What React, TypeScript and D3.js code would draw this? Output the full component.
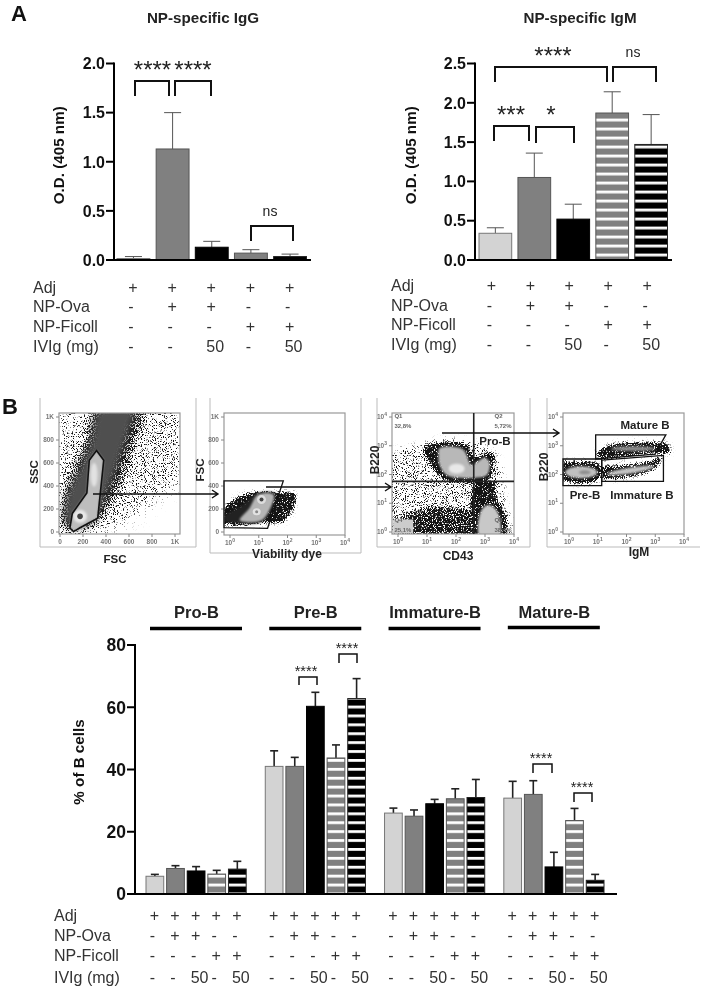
import React from "react";
import * as d3 from "d3";

const FONT = "'Liberation Sans', Arial, sans-serif";
const LIGHT = "#d3d3d3", GREY = "#808080", BLACK = "#000";

// ---------- values ----------
const conditionFills = ["light", "grey", "black", "greyStripe", "blackStripe"];
const iggValues = [0.015, 1.13, 0.13, 0.07, 0.035];
const iggTops = [0.035, 1.5, 0.19, 0.105, 0.06];
const igmValues = [0.34, 1.05, 0.52, 1.87, 1.47];
const igmTops = [0.41, 1.36, 0.71, 2.14, 1.85];
const iggTicks = [0, 0.5, 1, 1.5, 2];
const igmTicks = [0, 0.5, 1, 1.5, 2, 2.5];
const bTicks = [0, 20, 40, 60, 80];
const groups = ["Pro-B", "Pre-B", "Immature-B", "Mature-B"];
const bValues = [
  [5.7, 8.2, 7.4, 6.4, 8],
  [41, 41, 60.3, 43.7, 62.8],
  [26, 25, 29, 30.6, 31],
  [30.8, 32, 8.7, 23.6, 4.4],
];
const bTops = [
  [6.3, 9.1, 8.8, 7.6, 10.5],
  [46, 43.9, 64.8, 47.9, 69.2],
  [27.6, 27, 30.4, 33.8, 36.8],
  [36.2, 36.4, 13.4, 27.5, 6.3],
];
const rowNames = ["Adj", "NP-Ova", "NP-Ficoll", "IVIg (mg)"];
const rowMarks = [
  ["+", "+", "+", "+", "+"],
  ["-", "+", "+", "-", "-"],
  ["-", "-", "-", "+", "+"],
  ["-", "-", "50", "-", "50"],
];
// flow-plot shapes, in percent of each plot frame
const p1Scatter = [[0,105],[105,105],[105,48],[84,32],[58,12],[34,2],[0,0]];
const p1Dark = [[26,105],[72,105],[67,82],[57,52],[48,30],[34,10],[15,2],[1,2],[3,32],[12,60],[22,82]];
const p1Mid = [[32,102],[62,102],[57,82],[47,52],[37,27],[28,10],[15,5],[6,8],[6,30],[17,55],[27,79]];
const p1Gate = [[31,69],[37,61],[32,13],[17,5],[12,2],[9,5],[11,17],[23,34],[25,61]];
const p2Gate = [[0,44.4],[49,44.4],[36,5.5],[0,6]];
const p2Dark = [[-2,20],[8,29],[24,35],[43,35],[57,35],[60,30],[54,16],[49,11],[35,10],[-2,10]];
const p2Mid = [[0,15],[16,25],[27,34],[42,34],[38,21],[32,11],[0,12]];
const p2Light = [[13,12],[21,22],[28,33],[41,33],[35,16],[30,11.5]];
const p3Scatter = [[-3,64],[25,74],[45,78],[83,68],[93,25],[97,-3],[-3,-3]];
const p3Upper = [[25.5,71],[39,76],[61,74],[68,63],[77.5,68],[83,66],[82,49],[77.5,43.5],[42,45],[34,54],[27,65]];
const p3UpperLight = [[39,71],[58,70],[65,57],[69,59],[76,63],[80,59],[78,49],[69,46.5],[45,48.5],[39,57],[38,65.5]];
const p3Low = [[6,17],[34,24],[64,22],[70,-3],[6,-3]];
const p3Col = [[68,43.5],[83,43.5],[86,30],[94,13],[91,-3],[68,-3]];
const p3ColLight = [[72,-2],[73,19],[79,24],[86,19],[88,-2]];
const p4Mature = [[27,82],[85,82],[76,66],[27,62]];
const p4Immature = [[32,61],[83,65],[83,43.5],[32,43.5]];
const p4Pre = [[0,62],[32,62],[32,40],[0,40]];
const p4MatureCloud = [[29,68],[41,74],[66,76],[87,74],[88,67],[74,67],[52,64],[30,63]];
const p4ImmatureCloud = [[32,54.5],[52,57],[74,61],[81,64],[78,56],[66,49.5],[46,46],[32,46.5]];
const p4PreCloud = [[-2,58],[14,60],[30,58],[32,50],[28,44],[12,42],[-2,46]];
const linearTicks = ["0", "200", "400", "600", "800", "1K"];
const logPowers = ["0", "1", "2", "3", "4"];
const quadrants = [["Q1", "32,8%"], ["Q2", "5,72%"], ["Q3", "38,4%"], ["Q4", "25,1%"]];

const fillOf = (k: string, set: string) =>
  k === "light" ? LIGHT : k === "grey" ? GREY : k === "black" ? BLACK : `url(#${k}${set})`;
const strokeOf = (k: string) =>
  k === "light" ? "#777" : k === "grey" || k === "greyStripe" ? "#555" : k === "blackStripe" ? "#222" : "#000";

function Bars({ x, y, values, tops, ebColor, ebWidth, cap, set }: any) {
  return (
    <g>
      {values.map((v: number, i: number) => {
        const cx = x(i) + x.bandwidth() / 2;
        return (
          <g key={i}>
            <line x1={cx} x2={cx} y1={y(v)} y2={y(tops[i])} stroke={ebColor} strokeWidth={ebWidth} />
            <line x1={cx - cap} x2={cx + cap} y1={y(tops[i])} y2={y(tops[i])} stroke={ebColor} strokeWidth={ebWidth} />
            <rect x={x(i)} width={x.bandwidth()} y={y(v)} height={y(0) - y(v)}
              fill={set === "A" && v < 0.2 ? (i === 3 ? GREY : i === 4 ? BLACK : fillOf(conditionFills[i], set)) : fillOf(conditionFills[i], set)}
              stroke={strokeOf(conditionFills[i])} strokeWidth={1} />
          </g>
        );
      })}
    </g>
  );
}

function YAxis({ y, ticks, x0, x1, fmt, size, label, labelX }: any) {
  const [r0, r1] = y.range();
  return (
    <g fontFamily={FONT}>
      <line x1={x0} x2={x0} y1={r0 + 1} y2={r1 - 1} stroke="#000" strokeWidth={2} />
      <line x1={x0 - 7} x2={x1} y1={r0} y2={r0} stroke="#000" strokeWidth={2} />
      {ticks.map((t: number) => (
        <g key={t}>
          <line x1={x0 - 8} x2={x0} y1={y(t)} y2={y(t)} stroke="#000" strokeWidth={2} />
          <text x={x0 - 9} y={y(t)} dy="0.36em" textAnchor="end" fontSize={size} fontWeight="bold" fill="#111">{fmt(t)}</text>
        </g>
      ))}
      <text transform={`translate(${labelX},${(r0 + r1) / 2 + label.dy}) rotate(-90)`} textAnchor="middle"
        fontSize={label.size} fontWeight="bold" fill="#111">{label.text}</text>
    </g>
  );
}

function Rows({ centers, rowYs, labelX, size, shift }: any) {
  return (
    <g fontFamily={FONT} fontSize={size} fill="#333">
      {rowNames.map((n, r) => (
        <text key={n} x={labelX} y={rowYs[r]} dy="0.35em">{n}</text>
      ))}
      {rowMarks.map((row, r) =>
        centers.map((c: number, k: number) => {
          const m = row[k % 5];
          const dx = m === "-" ? -2 : m === "50" ? 4 : 0;
          return (
            <text key={`${r}-${k}`} x={c + shift + dx} y={rowYs[r]} dy="0.35em" textAnchor="middle">{m}</text>
          );
        })
      )}
    </g>
  );
}

function Bracket({ x0, x1, top, bottom, w = 2 }: any) {
  return (
    <path d={`M${x0},${bottom}V${top}H${x1}V${bottom}`} fill="none" stroke="#111" strokeWidth={w} />
  );
}

function Stars({ x, y, text, size = 24 }: any) {
  return (
    <text x={x} y={y} textAnchor="middle" fontFamily={FONT} fontSize={size} fill="#222">{text}</text>
  );
}

function Arrow({ x0, x1, y }: any) {
  return (
    <path d={`M${x0},${y}H${x1}M${x1 - 6},${y - 4}L${x1},${y}L${x1 - 6},${y + 4}`} fill="none" stroke="#111" strokeWidth={1.4} />
  );
}

function FlowPlot({ id, frame, outer, xTicks, yTicks, children, gates }: any) {
  const [x0, y0, x1, y1] = frame;
  const sx = d3.scaleLinear().domain([0, 100]).range([x0, x1]);
  const sy = d3.scaleLinear().domain([0, 100]).range([y1, y0]);
  const ctx = {
    poly: (pts: number[][], curved = true) =>
      d3.line().x((d: any) => sx(d[0])).y((d: any) => sy(d[1])).curve(curved ? d3.curveCatmullRomClosed.alpha(0.5) : d3.curveLinearClosed)(pts as any) as string,
    sx, sy,
  };
  const tickLabel = (t: string, x: number, y: number, anchor: string, log: boolean) =>
    log ? (
      <text x={x} y={y} textAnchor={anchor as any} fontSize={6.5} fontWeight="bold" fill="#777">
        10<tspan dy="-3" fontSize={5}>{t}</tspan>
      </text>
    ) : (
      <text x={x} y={y} textAnchor={anchor as any} fontSize={6.5} fontWeight="bold" fill="#777">{t}</text>
    );
  return (
    <g fontFamily={FONT}>
      <clipPath id={id}><rect x={x0} y={y0} width={x1 - x0} height={y1 - y0} /></clipPath>
      <path d={`M${outer[0]},${outer[1]}V${outer[3]}H${outer[2]}${outer[4] ? `V${outer[1]}` : ""}`} fill="none" stroke="#bbb" strokeWidth={1} />
      <g clipPath={`url(#${id})`}>
        <g filter="url(#soft)">
          <rect x={x0 - 5} y={y0 - 5} width={x1 - x0 + 10} height={y1 - y0 + 10} fill="#fff" />
          {children(ctx)}
        </g>
      </g>
      <rect x={x0} y={y0} width={x1 - x0} height={y1 - y0} fill="none" stroke="#999" strokeWidth={1.2} />
      {xTicks.values.map((t: string, i: number) => {
        const px = xTicks.start + (i * (xTicks.end - xTicks.start)) / (xTicks.values.length - 1);
        return (
          <g key={`x${i}`}>
            <line x1={px} x2={px} y1={y1} y2={y1 + 3} stroke="#888" />
            {tickLabel(t, px, y1 + 10, "middle", !!xTicks.log)}
          </g>
        );
      })}
      {yTicks.values.map((t: string, i: number) => {
        const py = yTicks.start + (i * (yTicks.end - yTicks.start)) / (yTicks.values.length - 1);
        return (
          <g key={`y${i}`}>
            <line x1={x0 - 3} x2={x0} y1={py} y2={py} stroke="#888" />
            {tickLabel(t, x0 - 5, py + 2, "end", !!yTicks.log)}
          </g>
        );
      })}
      {gates && gates(ctx)}
    </g>
  );
}

const Label = ({ x, y, text, size = 11.5, rotate = false }: any) => (
  <text transform={`translate(${x},${y})${rotate ? " rotate(-90)" : ""}`} textAnchor="middle" dy="0.35em"
    fontFamily={FONT} fontSize={size} fontWeight="bold" fill="#222">{text}</text>
);

function StippleFilter({ id, blur, seed }: any) {
  return (
    <filter id={id} x="-30%" y="-30%" width="160%" height="160%" colorInterpolationFilters="sRGB">
      <feGaussianBlur in="SourceAlpha" stdDeviation={blur} result="b" />
      <feTurbulence type="fractalNoise" baseFrequency="0.9" numOctaves={2} seed={seed} result="t" />
      <feColorMatrix in="t" type="matrix" values="0 0 0 0 0  0 0 0 0 0  0 0 0 0 0  2.6 0 0 0 -0.8" result="n" />
      <feComposite in="b" in2="n" operator="arithmetic" k1={0} k2={1} k3={1} k4={-1} result="c" />
      <feColorMatrix in="c" type="matrix" values="0 0 0 0 0.08  0 0 0 0 0.08  0 0 0 0 0.08  0 0 0 4 0" />
    </filter>
  );
}

export default function App() {
  const idx = d3.range(5);
  const xG = d3.scaleBand<number>().domain(idx).range([117, 306.5]).paddingInner(0.16);
  const yG = d3.scaleLinear().domain([0, 2]).range([260, 63.5]);
  const xM = d3.scaleBand<number>().domain(idx).range([479, 667.5]).paddingInner(0.16);
  const yM = d3.scaleLinear().domain([0, 2.5]).range([260, 63.5]);
  const yB = d3.scaleLinear().domain([0, 80]).range([894, 645]);
  const xGroup = d3.scaleBand<string>().domain(groups).range([146, 604]).paddingInner(0.16);
  const groupScale = (g: string) =>
    d3.scaleBand<number>().domain(idx).range([xGroup(g)!, xGroup(g)! + xGroup.bandwidth()]).paddingInner(0.14);
  const bCenters = groups.flatMap((g) => {
    const s = groupScale(g);
    return idx.map((i) => s(i)! + s.bandwidth() / 2);
  });
  const fmt1 = d3.format(".1f");
  const titleSize = 15.2;

  const stripe = (id: string, color: string, h: number, y: number) => (
    <pattern id={id} patternUnits="userSpaceOnUse" width={8} height={h} patternTransform={`translate(0,${y})`}>
      <rect width={8} height={h} fill={color} />
      <rect y={0} width={8} height={2.8} fill="#fff" />
    </pattern>
  );

  return (
    <svg width={704} height={987} style={{ position: "absolute", left: 0, top: 0, display: "block", background: "#fff" }}>
      <defs>
        {stripe("greyStripeA", GREY, 9, 253.6)}
        {stripe("blackStripeA", BLACK, 9, 253.6)}
        {stripe("greyStripeB", GREY, 8.9, 883.6)}
        {stripe("blackStripeB", BLACK, 8.9, 883.6)}
        <filter id="soft" x="-5%" y="-5%" width="110%" height="110%" colorInterpolationFilters="sRGB">
          <feGaussianBlur stdDeviation="0.7" />
        </filter>
        <filter id="b1" x="-30%" y="-30%" width="160%" height="160%"><feGaussianBlur stdDeviation="1.2" /></filter>
        <filter id="b3" x="-30%" y="-30%" width="160%" height="160%"><feGaussianBlur stdDeviation="3.5" /></filter>
        <StippleFilter id="stWide" blur={8} seed={4} />
        <StippleFilter id="stMid" blur={3} seed={9} />
        <StippleFilter id="stTight" blur={1.6} seed={13} />
      </defs>
      <g opacity={0.999}>
      <rect width={704} height={987} fill="#fff" />

      <text x={11} y={21} fontFamily={FONT} fontSize={22} fontWeight="bold" fill="#111">A</text>
      <text x={2} y={414} fontFamily={FONT} fontSize={22} fontWeight="bold" fill="#111">B</text>

      {/* IgG */}
      <text x={203} y={18} dy="0.35em" textAnchor="middle" fontFamily={FONT} fontSize={titleSize} fontWeight="bold" fill="#222">NP-specific IgG</text>
      <Bars x={xG} y={yG} values={iggValues} tops={iggTops} ebColor="#555" ebWidth={1} cap={8.5} set="A" />
      <YAxis y={yG} ticks={iggTicks} x0={114} x1={311} fmt={fmt1} size={16}
        label={{ text: "O.D. (405 nm)", size: titleSize, dy: -6.5 }} labelX={63.5} />
      <Bracket x0={135} x1={169} top={81} bottom={96} />
      <Bracket x0={175} x1={211} top={81} bottom={96} />
      <Bracket x0={251} x1={293} top={226} bottom={241} />
      <Stars x={152.5} y={78} text="****" />
      <Stars x={193} y={78} text="****" />
      <text x={270} y={211} dy="0.35em" textAnchor="middle" fontFamily={FONT} fontSize={14} fill="#222">ns</text>
      <Rows centers={idx.map((i) => xG(i)! + xG.bandwidth() / 2)} rowYs={[287, 306, 326, 346]} labelX={33} size={16} shift={-0.5} />

      {/* IgM */}
      <text x={580} y={18} dy="0.35em" textAnchor="middle" fontFamily={FONT} fontSize={titleSize} fontWeight="bold" fill="#222">NP-specific IgM</text>
      <Bars x={xM} y={yM} values={igmValues} tops={igmTops} ebColor="#555" ebWidth={1} cap={8.5} set="A" />
      <YAxis y={yM} ticks={igmTicks} x0={475} x1={672} fmt={fmt1} size={16}
        label={{ text: "O.D. (405 nm)", size: titleSize, dy: -6.5 }} labelX={415.5} />
      <Bracket x0={495} x1={607} top={67} bottom={82} />
      <Bracket x0={613} x1={656} top={67} bottom={82} />
      <Bracket x0={494} x1={529} top={126} bottom={141} />
      <Bracket x0={536} x1={574} top={127} bottom={143} />
      <Stars x={553} y={64} text="****" />
      <text x={633} y={52} dy="0.35em" textAnchor="middle" fontFamily={FONT} fontSize={14} fill="#222">ns</text>
      <Stars x={511} y={123} text="***" />
      <Stars x={551} y={123} text="*" />
      <Rows centers={idx.map((i) => xM(i)! + xM.bandwidth() / 2)} rowYs={[285, 305, 324, 344]} labelX={391} size={16} shift={-4} />

      {/* Flow plot 1 */}
      <FlowPlot id="c1" frame={[59, 413, 180, 534]} outer={[40, 398, 196, 547, 1]}
        xTicks={{ values: linearTicks, start: 60, end: 175 }} yTicks={{ values: linearTicks, start: 532, end: 417 }}
        gates={(c: any) => <path d={c.poly(p1Gate, false)} fill="none" stroke="#111" strokeWidth={1.6} />}>
        {(c: any) => (
          <g>
            <path d={c.poly(p1Scatter, false)} fill="#000" fillOpacity={0.34} filter="url(#stWide)" />
            <path d={c.poly(p1Dark)} fill="#000" fillOpacity={0.92} filter="url(#stWide)" />
            <path d={c.poly(p1Mid)} fill="#505050" filter="url(#b3)" />
            <path d={c.poly(p1Gate, false)} fill="#bdbdbd" filter="url(#b1)" />
            <ellipse cx={c.sx(29)} cy={c.sy(49)} rx={3.5} ry={12} fill="#e2e2e2" filter="url(#b1)" />
            <ellipse cx={c.sx(17.4)} cy={c.sy(14.6)} rx={7} ry={6.5} fill="#e8e8e8" filter="url(#b1)" />
            <ellipse cx={c.sx(17.4)} cy={c.sy(14.6)} rx={2.8} ry={2.8} fill="#444" />
          </g>
        )}
      </FlowPlot>
      <Label x={34} y={472} text="SSC" rotate />
      <Label x={115} y={559} text="FSC" />

      {/* Flow plot 2 */}
      <FlowPlot id="c2" frame={[224, 413, 345, 535]} outer={[210, 398, 361, 553, 1]}
        xTicks={{ values: logPowers, start: 230, end: 345, log: true }} yTicks={{ values: linearTicks, start: 532, end: 417 }}
        gates={(c: any) => <path d={c.poly(p2Gate, false)} fill="none" stroke="#111" strokeWidth={1.3} />}>
        {(c: any) => (
          <g>
            <path d={c.poly(p2Dark)} fill="#000" fillOpacity={0.3} filter="url(#stMid)" />
            <path d={c.poly(p2Dark)} fill="#000" fillOpacity={0.97} filter="url(#stTight)" />
            <path d={c.poly(p2Mid)} fill="#222" filter="url(#b1)" />
            <path d={c.poly(p2Light)} fill="#b5b5b5" filter="url(#b1)" />
            <ellipse cx={c.sx(31)} cy={c.sy(29)} rx={4.5} ry={4.5} fill="#ddd" />
            <ellipse cx={c.sx(31)} cy={c.sy(29)} rx={2} ry={2} fill="#444" />
            <ellipse cx={c.sx(27)} cy={c.sy(19)} rx={4} ry={3.5} fill="#e2e2e2" />
            <ellipse cx={c.sx(27)} cy={c.sy(19)} rx={1.5} ry={1.5} fill="#888" />
          </g>
        )}
      </FlowPlot>
      <Label x={200} y={470} text="FSC" rotate />
      <Label x={287} y={554} text="Viability dye" size={12} />

      {/* Flow plot 3 */}
      <FlowPlot id="c3" frame={[392, 413, 514, 534]} outer={[377, 398, 530, 547, 1]}
        xTicks={{ values: logPowers, start: 398, end: 514, log: true }} yTicks={{ values: logPowers, start: 532, end: 417, log: true }}
        gates={(c: any) => (
          <g>
            <path d={`M${c.sx(67)},${c.sy(100)}V${c.sy(0)}M${c.sx(0)},${c.sy(43.5)}H${c.sx(100)}`} stroke="#222" strokeWidth={1.6} fill="none" />
            <g fontSize={6} fill="#666" fontWeight="bold">
              <text x={c.sx(2)} y={c.sy(96)}>{quadrants[0][0]}</text>
              <text x={c.sx(2)} y={c.sy(88)}>{quadrants[0][1]}</text>
              <text x={c.sx(84)} y={c.sy(96)}>{quadrants[1][0]}</text>
              <text x={c.sx(84)} y={c.sy(88)}>{quadrants[1][1]}</text>
              <text x={c.sx(84)} y={c.sy(10)}>{quadrants[2][0]}</text>
              <text x={c.sx(84)} y={c.sy(2)}>{quadrants[2][1]}</text>
              <text x={c.sx(2)} y={c.sy(10)}>{quadrants[3][0]}</text>
              <text x={c.sx(2)} y={c.sy(2)}>{quadrants[3][1]}</text>
            </g>
          </g>
        )}>
        {(c: any) => (
          <g>
            <path d={c.poly(p3Scatter)} fill="#000" fillOpacity={0.34} filter="url(#stMid)" />
            <path d={c.poly(p3Low, false)} fill="#000" fillOpacity={0.88} filter="url(#stMid)" />
            <path d={c.poly(p3Col)} fill="#000" fillOpacity={0.95} filter="url(#stTight)" />
            <path d={c.poly(p3ColLight)} fill="#c8c8c8" filter="url(#b1)" />
            <path d={c.poly(p3Upper)} fill="#000" fillOpacity={0.97} filter="url(#stTight)" />
            <path d={c.poly(p3UpperLight)} fill="#b8b8b8" filter="url(#b1)" />
            <ellipse cx={c.sx(53)} cy={c.sy(54)} rx={8} ry={5} fill="#e8e8e8" filter="url(#b1)" />
            <rect x={c.sx(1)} y={c.sy(12)} width={20} height={14} fill="#ccc" />
          </g>
        )}
      </FlowPlot>
      <Label x={375} y={460} text="B220" rotate size={12} />
      <Label x={458} y={556} text="CD43" size={12} />
      <Label x={495} y={441} text="Pro-B" />

      {/* Flow plot 4 */}
      <FlowPlot id="c4" frame={[563, 413, 684, 534]} outer={[547, 398, 700, 547, 0]}
        xTicks={{ values: logPowers, start: 569, end: 684, log: true }} yTicks={{ values: logPowers, start: 532, end: 417, log: true }}
        gates={(c: any) => (
          <g fill="none" stroke="#111" strokeWidth={1.3}>
            <path d={c.poly(p4Mature, false)} />
            <path d={c.poly(p4Immature, false)} />
            <path d={c.poly(p4Pre, false)} />
          </g>
        )}>
        {(c: any) => (
          <g>
            <path d={c.poly(p4MatureCloud)} fill="#000" fillOpacity={0.3} filter="url(#stMid)" />
            <path d={c.poly(p4ImmatureCloud)} fill="#000" fillOpacity={0.3} filter="url(#stMid)" />
            <path d={c.poly(p4PreCloud)} fill="#000" fillOpacity={0.3} filter="url(#stMid)" />
            <path d={c.poly(p4MatureCloud)} fill="#000" fillOpacity={0.95} filter="url(#stTight)" />
            <path d={c.poly(p4ImmatureCloud)} fill="#000" fillOpacity={0.95} filter="url(#stTight)" />
            <path d={c.poly(p4PreCloud)} fill="#000" fillOpacity={0.95} filter="url(#stTight)" />
            <ellipse cx={c.sx(58)} cy={c.sy(70.5)} rx={22} ry={2.4} fill="#8a8a8a" filter="url(#b1)" />
            <ellipse cx={c.sx(56)} cy={c.sy(52.5)} rx={24} ry={3} fill="#c4c4c4" filter="url(#b1)" transform={`rotate(-9 ${c.sx(56)} ${c.sy(52.5)})`} />
            <ellipse cx={c.sx(15)} cy={c.sy(51)} rx={16} ry={6} fill="#c0c0c0" filter="url(#b1)" />
            <ellipse cx={c.sx(18)} cy={c.sy(51)} rx={6} ry={2} fill="#8c8c8c" filter="url(#b1)" />
          </g>
        )}
      </FlowPlot>
      <Label x={544} y={467} text="B220" rotate size={12} />
      <Label x={639} y={552} text="IgM" size={12} />
      <Label x={645} y={425} text="Mature B" />
      <Label x={585} y={495} text="Pre-B" />
      <Label x={642} y={495} text="Immature B" />

      <Arrow x0={93} x1={218} y={494} />
      <Arrow x0={266} x1={391} y={487} />
      <Arrow x0={442} x1={559} y={433} />

      {/* Panel B bars */}
      {groups.map((g, gi) => {
        const s = groupScale(g);
        const gx = xGroup(g)!;
        return (
          <g key={g}>
            <Bars x={s} y={yB} values={bValues[gi]} tops={bTops[gi]} ebColor="#222" ebWidth={1.6} cap={4} set="B" />
            <text x={gx + 50.5} y={612} dy="0.35em" textAnchor="middle" fontFamily={FONT} fontSize={16.5} fontWeight="bold" fill="#222">{g}</text>
            <line x1={gx + 4} x2={gx + 96} y1={gi === 3 ? 627.5 : 628.5} y2={gi === 3 ? 627.5 : 628.5} stroke="#000" strokeWidth={3.5} />
          </g>
        );
      })}
      <YAxis y={yB} ticks={bTicks} x0={135} x1={617} fmt={String} size={17.5}
        label={{ text: "% of B cells", size: titleSize, dy: -7.5 }} labelX={83.5} />
      <Bracket x0={299} x1={317} top={677} bottom={685} w={1.5} />
      <Bracket x0={339} x1={357} top={654} bottom={663} w={1.5} />
      <Bracket x0={533} x1={552} top={764} bottom={773} w={1.5} />
      <Bracket x0={574} x1={592} top={793} bottom={802} w={1.5} />
      <Stars x={306} y={676} text="****" size={14.5} />
      <Stars x={347} y={653} text="****" size={14.5} />
      <Stars x={541} y={763} text="****" size={14.5} />
      <Stars x={582} y={792} text="****" size={14.5} />
      <Rows centers={bCenters} rowYs={[915, 935, 955, 977]} labelX={54} size={16} shift={-0.5} />
      </g>
    </svg>
  );
}
